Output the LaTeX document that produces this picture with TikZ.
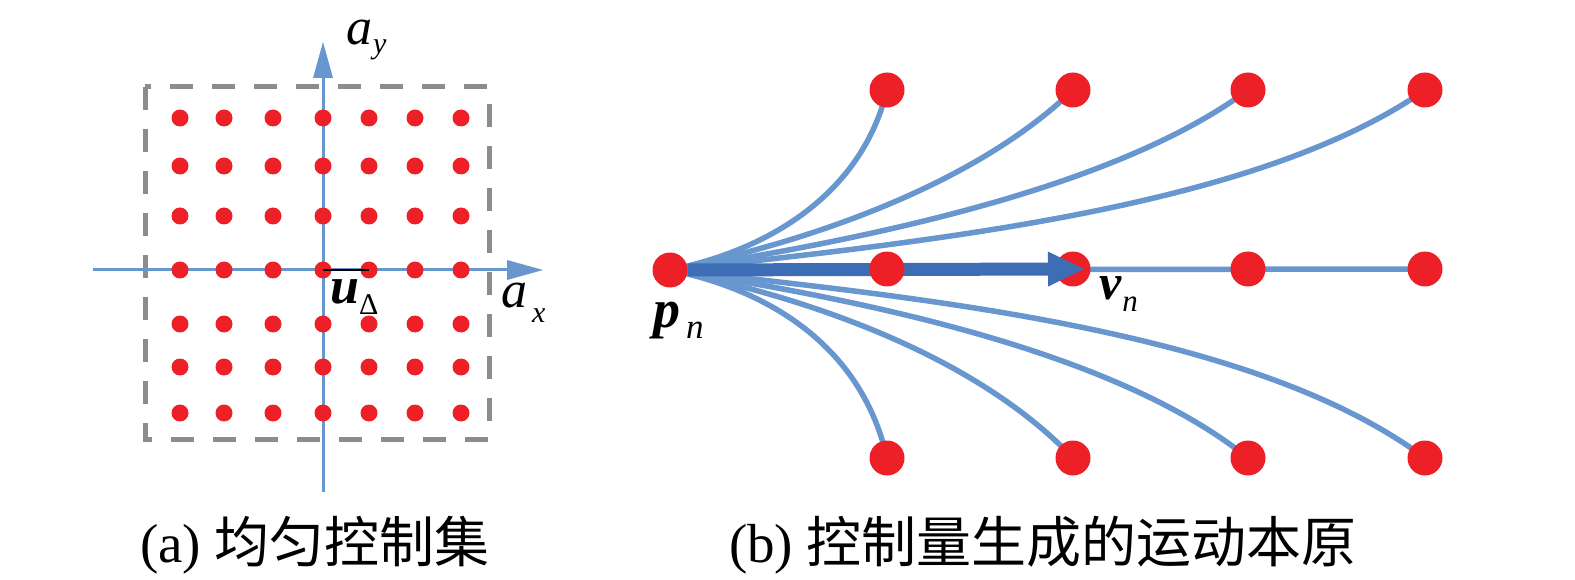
\documentclass[tikz,border=0pt]{standalone}
\usepackage{fontspec}
\setmainfont{Liberation Serif}
\newfontfamily\cjk{Noto Sans CJK SC}
\usetikzlibrary{arrows.meta,backgrounds}
\definecolor{dotred}{RGB}{237,32,39}
\definecolor{axblue}{RGB}{104,151,208}
\definecolor{trajblue}{RGB}{104,151,208}
\definecolor{darkblue}{RGB}{61,109,181}
\definecolor{boxgray}{RGB}{140,140,140}
\begin{document}
\begin{tikzpicture}[x=1pt,y=-1pt,
  adot/.style={circle,fill=dotred,inner sep=0pt,minimum size=17pt},
  bdot/.style={circle,fill=dotred,inner sep=0pt,minimum size=35pt},
  axisarrow/.style={draw=axblue,line width=3pt,-{Triangle[length=36pt,width=20pt,line width=0pt]}},
  traj/.style={draw=trajblue,line width=5.5pt},
  darkarrow/.style={draw=darkblue,line width=13pt,-{Triangle[length=36pt,width=35pt,line width=0pt]}},
  gridbox/.style={draw=boxgray,line width=5pt,dash pattern=on 23pt off 19pt},
  lbl/.style={inner sep=0pt,anchor=base west},
  captext/.style={inner sep=0pt,anchor=base},
]
\useasboundingbox (0,0) rectangle (1575,580);

% ---------- panel (a) ----------
\draw[gridbox] (145,87) rectangle (489,439);
\coordinate (xs) at (93,270);
\coordinate (xe) at (543,270);
\coordinate (ys) at (323,492);
\coordinate (ye) at (323,42);
\draw[axisarrow] (xs) -- (xe);
\draw[axisarrow] (ys) -- (ye);
\foreach \x [count=\i] in {180,224,273,323,369,415,461}{
  \foreach \y [count=\j] in {118,166,216,270,324,367,413}{
    \node[adot] (a\j\i) at (\x,\y) {};
  }
}
\draw[black,line width=2.5pt] (a44.center) -- (a45.center);
\node[lbl] (lay) at (346,45) {\fontsize{52}{52}\selectfont\itshape a\hspace{1pt}\raisebox{-9pt}{\fontsize{30}{30}\selectfont y}};
\node[lbl] (lax) at (501,307) {\fontsize{52}{52}\selectfont\itshape a\hspace{5pt}\raisebox{-15pt}{\fontsize{30}{30}\selectfont x}};
\node[lbl] (lu) at (330,303) {\fontsize{52}{52}\selectfont{\bfseries\itshape u}\raisebox{-12pt}{\fontsize{30}{30}\selectfont Δ}};

% ---------- panel (b) ----------
\node[bdot] (pn) at (670,270) {};
\foreach \x [count=\i] in {887,1073,1248,1425}{
  \node[bdot] (t\i) at (\x,90) {};
  \node[bdot] (b\i) at (\x,458) {};
}
\node[bdot] (m2) at (1073,269) {};
\node[bdot] (m3) at (1248,269) {};
\node[bdot] (m4) at (1425,269) {};
\begin{pgfonlayer}{background}
\draw[traj] (pn.center) .. controls (760,252) and (860,200) .. (t1.center);
\draw[traj] (pn.center) .. controls (820,240) and (980,180) .. (t2.center);
\draw[traj] (pn.center) .. controls (880,238) and (1120,185) .. (t3.center);
\draw[traj] (pn.center) .. controls (950,240) and (1260,205) .. (t4.center);
\draw[traj] (pn.center) .. controls (760,288) and (860,340) .. (b1.center);
\draw[traj] (pn.center) .. controls (820,300) and (980,360) .. (b2.center);
\draw[traj] (pn.center) .. controls (880,302) and (1120,355) .. (b3.center);
\draw[traj] (pn.center) .. controls (950,300) and (1260,335) .. (b4.center);
\draw[traj] (pn.center) -- (m4.center);
\end{pgfonlayer}
\coordinate (vtip) at (1084,269);
\draw[darkarrow] (pn) -- (vtip);
\node[bdot] (m1) at (887,269) {};
\node[lbl] (lp) at (653,327) {\fontsize{54}{54}\selectfont{\bfseries\itshape p}\hspace{6pt}\raisebox{-11pt}{\fontsize{35}{35}\selectfont\itshape n}};
\node[lbl] (lv) at (1099,300) {\fontsize{50}{50}\selectfont{\bfseries\itshape v}\hspace{1pt}\raisebox{-12pt}{\fontsize{31}{31}\selectfont\itshape n}};

% ---------- captions ----------
\node[captext] (capa) at (315,562) {\fontsize{55}{55}\selectfont (a) {\cjk 均匀控制集}};
\node[captext] (capb) at (1043,562) {\fontsize{55}{55}\selectfont (b) {\cjk 控制量生成的运动本原}};
\end{tikzpicture}
\end{document}
